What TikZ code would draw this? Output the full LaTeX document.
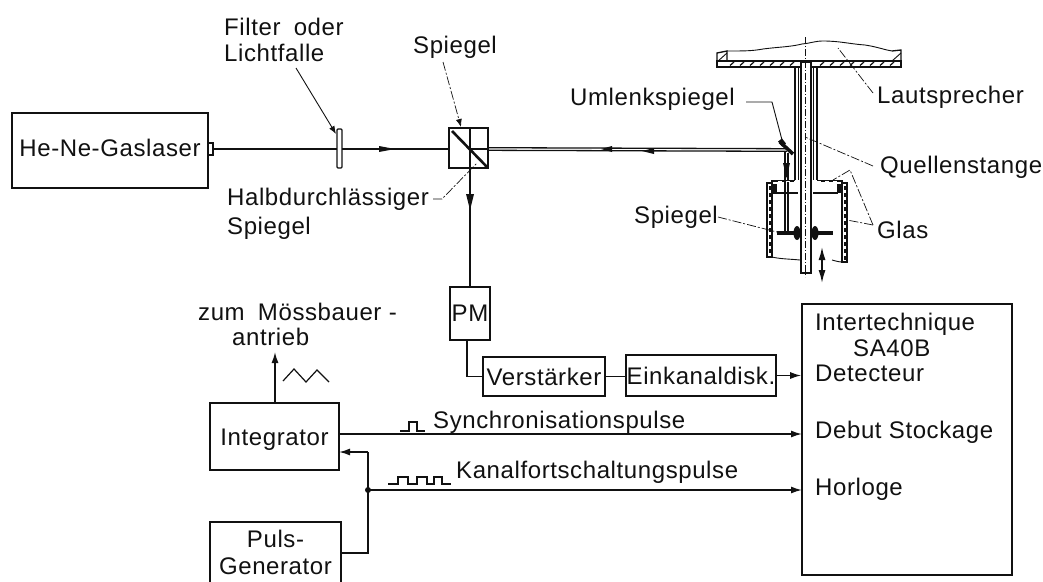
\documentclass[tikz,border=0pt]{standalone}
\usepackage{fontspec}
\setmainfont[LetterSpace=2.5]{Liberation Sans}
\usetikzlibrary{arrows.meta,positioning,calc}
\definecolor{inkblack}{HTML}{111111}
\definecolor{paperwhite}{HTML}{FFFFFF}
\tikzset{
  block/.style={draw=inkblack, line width=1.6pt, inner sep=0pt, font=\fontsize{24}{27}\selectfont, text=inkblack, align=center},
  lbl/.style={font=\fontsize{24}{28}\selectfont, text=inkblack, inner sep=0pt, anchor=west},
  wire/.style={draw=inkblack, line width=1.5pt},
  warr/.style={wire, -{Latex[length=11pt,width=7pt]}},
  beam/.style={draw=inkblack, line width=1.3pt},
  midarr/.style={fill=inkblack, draw=none},
  fine/.style={draw=inkblack, line width=0.9pt},
  sym/.style={draw=inkblack, line width=1.2pt},
  lead/.style={draw=inkblack, line width=0.7pt, dash pattern=on 9pt off 2pt on 2pt off 2pt},
  leadarr/.style={lead, -{Latex[length=8pt,width=6pt]}},
  part/.style={draw=inkblack, line width=1.3pt},
  heavy/.style={draw=inkblack, line width=2.6pt},
  axis/.style={draw=inkblack, line width=0.4pt, dash pattern=on 7pt off 2pt on 1pt off 2pt},
}
\begin{document}
\begin{tikzpicture}[x=1pt,y=-1pt]
  \useasboundingbox[fill=paperwhite] (0,0) rectangle (1043,581);
  % optical bench
  \node[block, minimum width=196pt, minimum height=75pt, text depth=5pt] (laser) at (110,150.5) {He-Ne-Gaslaser};
  \draw[part, fill=paperwhite] (208,143) rectangle (213,155);
  \coordinate (laserout) at (213,149);
  \draw[part, rounded corners=1pt] (337,129) rectangle (342,168);
  \node[draw=inkblack, line width=1.9pt, minimum width=39pt, minimum height=40pt, inner sep=0pt] (cube) at (468.5,148) {};
  \coordinate (cubein) at (449,149);
  \coordinate (cubeout) at (488,149);
  \coordinate (cubedown) at (470,168);
  \draw[beam] (laserout) -- (337,149) (342,149) -- (cubein);
  \fill[midarr] (379,146) -- (395,149) -- (379,152) -- cycle;
  \draw[beam] (470,128) -- (cubedown);
  \draw[heavy] (452,131) -- (488,168);
  \draw[heavy] (449,128) -- (488,128);
  \draw[beam] (470,149) -- (cubeout);
  % return beam
  \coordinate (umlenk) at (787,150);
  \draw[beam] (cubeout) ++(0,-1.3) -- ($(umlenk)+(0,-1.3)$);
  \draw[beam] (cubeout) ++(0,1.3) -- ($(umlenk)+(0,1.3)$);
  \fill[midarr] (601,149) -- (612,146) -- (612,152) -- cycle;
  \fill[midarr] (642,151) -- (654,148) -- (654,154) -- cycle;
  \draw[line width=3.6pt, draw=inkblack] (780,142) -- (793,154);
  \draw[line width=5pt, draw=inkblack] (780,140) -- (784,145);
  \draw[beam] (785,151) -- (785,232) (788,153) -- (788,232);
  \fill[midarr] (783,163) -- (790,163) -- (786.5,178) -- cycle;
  % detector chain
  \node[block, minimum width=40pt, minimum height=53pt] (pm) at (470,313.5) {PM};
  \node[block, minimum width=122pt, minimum height=39pt] (verst) at (544,376.5) {Verstärker};
  \node[block, minimum width=150pt, minimum height=41pt] (einkanal) at (701,375.5) {Einkanaldisk.};
  \node[block, minimum width=210pt, minimum height=271pt] (sa) at (907,439.5) {};
  \draw[wire] (cubedown) -- (pm.north);
  \fill[midarr] (466,194) -- (474,194) -- (470,210) -- cycle;
  \coordinate (pmout) at (467,340);
  \draw[wire] (pmout) |- (verst.west);
  \draw[wire] (verst.east) -- (einkanal.west |- verst.east);
  \draw[warr] (einkanal.east) -- (sa.west |- einkanal.east);
  \node[lbl] (tinter) at (815,324) {Intertechnique};
  \node[lbl] (tsa) at (853,348) {SA40B};
  \node[lbl] (tdet) at (815,373) {Detecteur};
  \node[lbl] (tdebut) at (815,432) {Debut Stockage};
  \node[lbl] (thor) at (815,489) {Horloge};
  % electronics
  \node[block, minimum width=129pt, minimum height=67pt, text height=22pt] (integ) at (274.5,436.5) {Integrator};
  \node[block, minimum width=131pt, minimum height=62pt, anchor=north] (puls) at (275.5,521) {Puls-\\Generator};
  \coordinate (antrieb) at (275,352);
  \draw[warr] (integ.north -| antrieb) -- (antrieb);
  \draw[sym] (283,381) -- (294,369) -- (306,382) -- (317,370) -- (329,382);
  \node[lbl] (tzum) at (198,312) {zum\hspace{6pt} Mössbauer -};
  \node[lbl] (tantrieb) at (232,337) {antrieb};
  \coordinate (syncout) at (339,434);
  \coordinate (syncin) at (802,434);
  \draw[warr] (syncout) -- (syncin);
  \draw[sym] (400,431) -- (409,431) -- (409,422) -- (417,422) -- (417,431) -- (425,431);
  \node[lbl] (tsync) at (433,422) {Synchronisationspulse};
  \coordinate (pulsout) at (341,553);
  \coordinate (knick) at (368,553);
  \coordinate (knoten) at (368,490);
  \coordinate (integin) at (339,452);
  \coordinate (knick2) at (368,452);
  \coordinate (horin) at (802,490);
  \draw[wire] (pulsout) -- (knick) -- (knick2);
  \draw[warr] (knick2) -- (integin);
  \draw[warr] (knoten) -- (horin);
  \fill[inkblack] (knoten) circle (3pt);
  \draw[sym] (388,484) -- (398,484) -- (398,477) -- (408,477) -- (408,484) -- (417,484) -- (417,477) -- (427,477) -- (427,484) -- (434,484) -- (434,477) -- (442,477) -- (442,484) -- (451,484);
  \node[lbl] (tkanal) at (456,472) {Kanalfortschaltungspulse};
  % labels, optics side
  \node[lbl] (tfilter) at (224,27) {Filter\hspace{6pt} oder};
  \node[lbl] (tlicht) at (224,53) {Lichtfalle};
  \node[lbl] (tspiegel) at (413,47) {Spiegel};
  \node[lbl] (thalb) at (227,199) {Halbdurchlässiger};
  \node[lbl] (tspiegelb) at (227,228) {Spiegel};
  \node[lbl] (tumlenk) at (570,99) {Umlenkspiegel};
  \node[lbl] (tlaut) at (877,97) {Lautsprecher};
  \node[lbl] (tquellen) at (880,167) {Quellenstange};
  \node[lbl] (tglas) at (877,230) {Glas};
  \node[lbl] (tspiegelc) at (634,217) {Spiegel};
  \coordinate (filtertip) at (336,134);
  \coordinate (spiegeltip) at (461,127);
  \draw[fine, -{Latex[length=8pt,width=6pt]}] (296,68) -- (filtertip);
  \draw[leadarr] (443,62) -- (spiegeltip);
  \draw[lead] (thalb.east) ++(4,0) -- (442,199) -- (477,163);
  \draw[fine] (746,102) -- (772,102) -- (782,140);
  \draw[lead] (873,93) -- (838,48);
  \draw[lead] (873,166) -- (805,137);
  \draw[lead] (873,225) -- (850,170) -- (833,180);
  \draw[lead] (873,225) -- (847,220);
  \draw[lead] (718,217) -- (777,232);
  % speaker and rod
  \draw[part] (717,67) rectangle (901,61);
  \draw[part] (717,67) -- (717,53) -- (727,51) -- (727,61);
  \draw[part] (901,61) -- (901,50) -- (892,51);
  \draw[fine] (717,62) -- (727,53) (892,61) -- (901,53);
  \draw[fine] (727,51) .. controls (745,51) and (752,51) .. (763,49) .. controls (778,47) and (790,47) .. (802,44) .. controls (812,43) and (815,41) .. (823,41) .. controls (840,41) and (850,44) .. (865,45) .. controls (878,47) and (885,50) .. (892,51);
  \foreach \hx in {730,740,...,790,820,830,...,890}
    \draw[sym] (\hx,65.5) -- (\hx+4,62);
  \fill[paperwhite] (801,61) rectangle (811,69);
  \draw[part] (801,62) -- (801,273) -- (811,273) -- (811,62) -- cycle;
  \draw[part] (795,67) -- (795,180) (798.5,67) -- (798.5,180);
  \draw[part] (817,67) -- (817,180) (813.5,67) -- (813.5,180);
  \draw[axis] (805,37) -- (805,277);
  % housing
  \draw[heavy] (771,181) -- (795,181) (817,181) -- (843,181);
  \draw[draw=paperwhite, line width=1pt, dash pattern=on 4pt off 4pt] (778,181) -- (795,181) (817,181) -- (838,181);
  \draw[part] (771,193) -- (798,193) (813,193) -- (838,193);
  \draw[line width=6pt, draw=inkblack] (774,184) -- (774,193) (840,184) -- (840,193);
  \draw[part] (767,183) -- (767,257) -- (772,257) -- (772,183) -- cycle;
  \draw[part] (842,183) -- (842,262) -- (847,262) -- (847,183) -- cycle;
  \draw[line width=2pt, draw=inkblack, dash pattern=on 4pt off 3pt] (769.5,186) -- (769.5,255) (844.5,186) -- (844.5,260);
  \draw[fine] (772,257) .. controls (780,259) and (790,259) .. (800,260);
  \draw[fine] (832,260) .. controls (836,261) and (838,262) .. (843,262);
  % mirror on rod
  \draw[line width=4pt, draw=inkblack] (777,233) -- (798,233) (813,233) -- (833,233);
  \fill[inkblack] (797,233) ellipse (3.5pt and 7pt);
  \fill[inkblack] (815,233) ellipse (3.5pt and 7pt);
  \draw[wire, {Latex[length=13pt,width=7pt]}-{Latex[length=13pt,width=7pt]}] (822,247) -- (822,283);
\end{tikzpicture}
\end{document}
